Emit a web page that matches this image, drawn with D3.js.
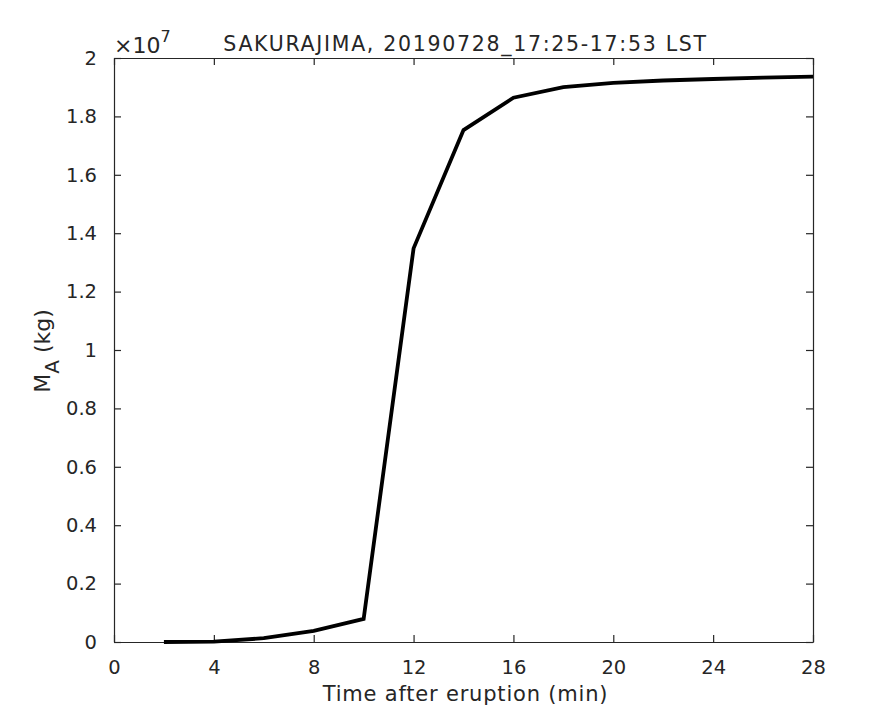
<!DOCTYPE html>
<html>
<head>
<meta charset="utf-8">
<script src="https://cdn.jsdelivr.net/npm/d3@7"></script>
<style>
  body { margin: 0; background: #fff; }
  text { font-family: "DejaVu Sans", sans-serif; fill: #262626; }
</style>
</head>
<body>
<script>
// time after eruption (min)
const times = [2, 4, 6, 8, 10, 12, 14, 16, 18, 20, 22, 24, 26, 28];
// accumulated mass M_A (kg)
const mass = [0, 0.01e6, 0.13e6, 0.38e6, 0.79e6, 13.48e6, 17.53e6, 18.64e6,
  19.0e6, 19.15e6, 19.23e6, 19.28e6, 19.33e6, 19.36e6];
const xTicks = [0, 4, 8, 12, 16, 20, 24, 28];
const yTicks = [0, 0.2, 0.4, 0.6, 0.8, 1, 1.2, 1.4, 1.6, 1.8, 2];

const width = 875;
const height = 723;
const margin = { left: 114, right: 62, top: 58, bottom: 81 };
const axisColor = "#262626";

const svg = d3.select("body").append("svg")
  .attr("width", width)
  .attr("height", height);

const xScale = d3.scaleLinear().domain([0, 28])
  .range([margin.left, width - margin.right]);
const yScale = d3.scaleLinear().domain([0, 2e7])
  .range([height - margin.bottom, margin.top]);

const tickLen = 7;

// bottom and top axes
const xAxis = d3.axisBottom(xScale).tickValues(xTicks)
  .tickSizeInner(-tickLen).tickSizeOuter(0).tickPadding(18);
svg.append("g")
  .attr("transform", "translate(0," + (height - margin.bottom) + ")")
  .call(xAxis);
svg.append("g")
  .attr("transform", "translate(0," + margin.top + ")")
  .call(d3.axisTop(xScale).tickValues(xTicks).tickSizeInner(-tickLen)
    .tickSizeOuter(0).tickFormat(""));

// left and right axes
const yAxis = d3.axisLeft(yScale).tickValues(yTicks.map(d => d * 1e7))
  .tickSizeInner(-tickLen).tickSizeOuter(0).tickPadding(17)
  .tickFormat(d => d3.format("~g")(d / 1e7));
svg.append("g")
  .attr("transform", "translate(" + margin.left + ",0)")
  .call(yAxis);
svg.append("g")
  .attr("transform", "translate(" + (width - margin.right) + ",0)")
  .call(d3.axisRight(yScale).tickValues(yTicks.map(d => d * 1e7))
    .tickSizeInner(-tickLen).tickSizeOuter(0).tickFormat(""));

svg.selectAll(".domain, .tick line")
  .attr("stroke", axisColor)
  .attr("stroke-width", 1.2);
svg.selectAll(".tick text")
  .style("font-size", "19.5px")
  .attr("fill", axisColor);

// data line
const line = d3.line()
  .x((d, i) => xScale(times[i]))
  .y(d => yScale(d));

svg.append("path")
  .datum(mass)
  .attr("fill", "none")
  .attr("stroke", "#000")
  .attr("stroke-width", 3.8)
  .attr("stroke-linejoin", "miter")
  .attr("d", line);

// exponent label
const expo = svg.append("text")
  .attr("x", margin.left)
  .attr("y", 53)
  .style("font-size", "22px");
expo.append("tspan").text("\u00d710");
expo.append("tspan").attr("dy", -11).style("font-size", "16px").text("7");

// title
svg.append("text")
  .attr("x", (xScale(0) + xScale(28)) / 2 + 2)
  .attr("y", 51)
  .attr("text-anchor", "middle")
  .style("font-size", "20.5px")
  .style("letter-spacing", "1.7px")
  .text("SAKURAJIMA, 20190728_17:25-17:53 LST");

// x label
svg.append("text")
  .attr("x", (xScale(0) + xScale(28)) / 2 + 2)
  .attr("y", 701)
  .attr("text-anchor", "middle")
  .style("font-size", "21px")
  .style("letter-spacing", "0.8px")
  .text("Time after eruption (min)");

// y label
const yl = svg.append("text")
  .attr("transform", "translate(50,351) rotate(-90)")
  .attr("text-anchor", "middle")
  .style("font-size", "22px");
yl.append("tspan").text("M");
yl.append("tspan").attr("dy", 9).style("font-size", "20px").text("A");
yl.append("tspan").attr("dy", -9).text(" (kg)");
</script>
</body>
</html>
